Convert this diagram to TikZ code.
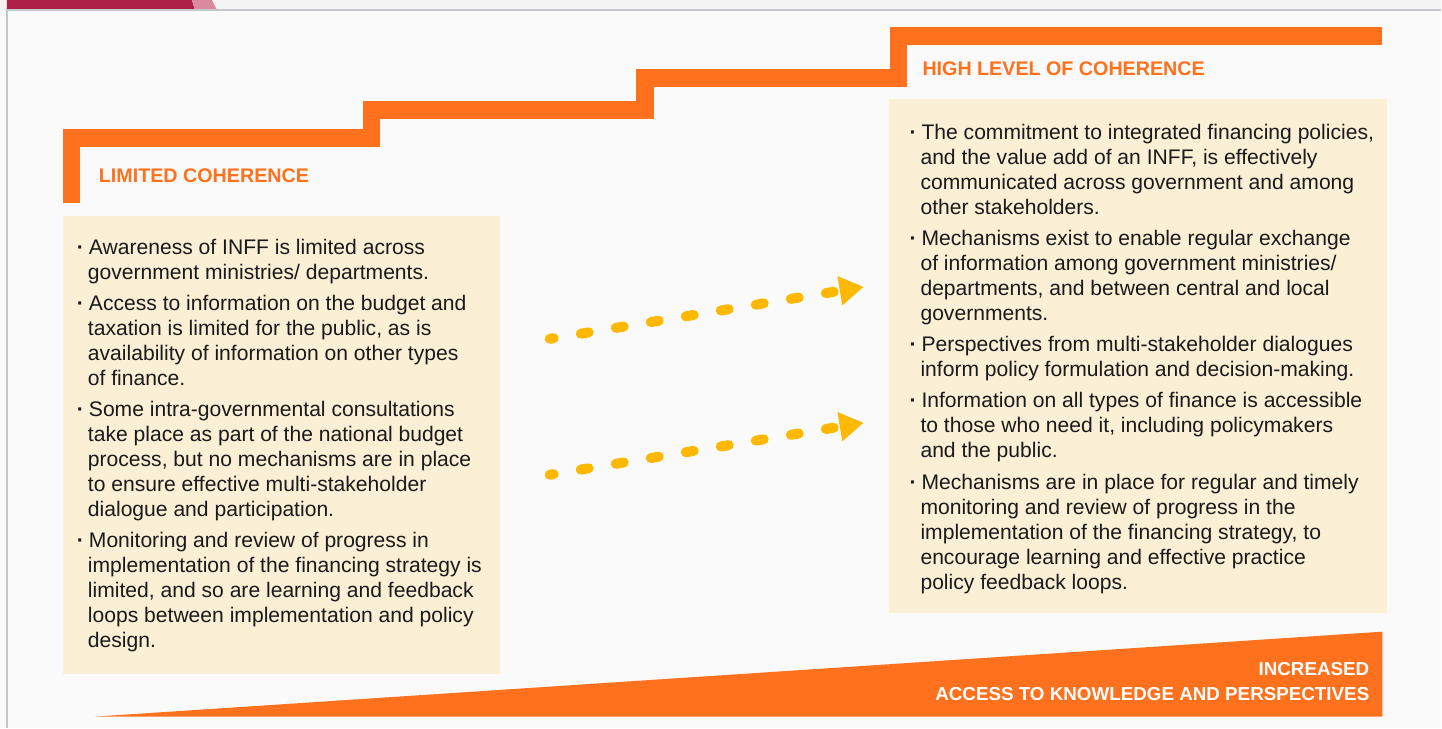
\documentclass[tikz,border=0pt]{standalone}
\usepackage{fontspec}
\setmainfont{Liberation Sans}
\usepackage{tikz}
\usetikzlibrary{arrows.meta, positioning}

\definecolor{stairorange}{HTML}{FF711C}
\definecolor{boxbeige}{HTML}{FBEFD6}
\definecolor{arrowgold}{HTML}{FFB800}
\definecolor{pagegrey}{HTML}{FAFAFA}
\definecolor{stripgrey}{HTML}{F3F3F3}
\definecolor{bordergrey}{HTML}{C4C7CB}
\definecolor{tabred}{HTML}{AE1F45}
\definecolor{tabpink}{HTML}{D98A9E}
\definecolor{bodytext}{HTML}{1A1A1A}

\newcommand{\bul}{\makebox[12pt][l]{\bfseries ·}}
\newcommand{\ind}{\hspace*{11pt}}

\begin{document}
\begin{tikzpicture}[x=1pt, y=-1pt,
    every node/.style={inner sep=0pt, outer sep=0pt},
    stair/.style={draw=stairorange, line width=17.5pt, line join=miter},
    panel/.style={fill=boxbeige, anchor=north west},
    heading/.style={text=stairorange, font=\fontsize{19.7}{24}\selectfont\bfseries, anchor=base west},
    itemtext/.style={text=bodytext, font=\fontsize{21.1}{25}\selectfont, align=left, anchor=north west},
    flow/.style={draw=arrowgold, line width=10pt, line cap=round, dash pattern=on 8pt off 27.5pt,
        dash phase=4pt, -{Triangle[length=24pt,width=28pt]}},
    gain/.style={text=white, font=\fontsize{18.8}{25}\selectfont\bfseries, anchor=base east}]

    % Page and tab strip
    \fill[pagegrey] (0,0) rectangle (1442,728);
    \fill[stripgrey] (0,0) rectangle (1442,10);
    \fill[tabred] (7,0) -- (192,0) -- (195,10) -- (7,10) -- cycle;
    \fill[tabpink] (192,0) -- (212,0) -- (217,10) -- (195,10) -- cycle;
    \draw[bordergrey, line width=1.5pt] (7,728) -- (7,10) -- (1442,10);

    % Staircase
    \draw[stair] (71.5,203) -- (71.5,138) -- (371.5,138) -- (371.5,110) -- (645.5,110)
        -- (645.5,78) -- (899,78) -- (899,36) -- (1383,36);

    % Left panel
    \node[panel, minimum width=437pt, minimum height=458pt] (limbox) at (63,216) {};
    \node[heading] (limhead) at (99,183) {LIMITED COHERENCE};
    \node[itemtext] (limtext) at (77,239) {%
        \bul Awareness of INFF is limited across\\
        \ind government ministries/ departments.\\[6.3pt]
        \bul Access to information on the budget and\\
        \ind taxation is limited for the public, as is\\
        \ind availability of information on other types\\
        \ind of finance.\\[6.3pt]
        \bul Some intra-governmental consultations\\
        \ind take place as part of the national budget\\
        \ind process, but no mechanisms are in place\\
        \ind to ensure effective multi-stakeholder\\
        \ind dialogue and participation.\\[6.3pt]
        \bul Monitoring and review of progress in\\
        \ind implementation of the financing strategy is\\
        \ind limited, and so are learning and feedback\\
        \ind loops between implementation and policy\\
        \ind design.};

    % Right panel
    \node[panel, minimum width=499pt, minimum height=514pt] (highbox) at (889,99) {};
    \node[heading] (highhead) at (923,76) {HIGH LEVEL OF COHERENCE};
    \node[itemtext] (hightext) at (910,124) {%
        \bul The commitment to integrated financing policies,\\
        \ind and the value add of an INFF, is effectively\\
        \ind communicated across government and among\\
        \ind other stakeholders.\\[6.3pt]
        \bul Mechanisms exist to enable regular exchange\\
        \ind of information among government ministries/\\
        \ind departments, and between central and local\\
        \ind governments.\\[6.3pt]
        \bul Perspectives from multi-stakeholder dialogues\\
        \ind inform policy formulation and decision-making.\\[6.3pt]
        \bul Information on all types of finance is accessible\\
        \ind to those who need it, including policymakers\\
        \ind and the public.\\[6.3pt]
        \bul Mechanisms are in place for regular and timely\\
        \ind monitoring and review of progress in the\\
        \ind implementation of the financing strategy, to\\
        \ind encourage learning and effective practice\\
        \ind policy feedback loops.};

    % Dotted arrows in the middle
    \coordinate (upstart) at (550,339);
    \coordinate (upend) at (864,287);
    \coordinate (lowstart) at (550,475);
    \coordinate (lowend) at (864,423);
    \draw[flow] (upstart) -- (upend);
    \draw[flow] (lowstart) -- (lowend);

    % Wedge at the bottom
    \fill[stairorange] (95,717) -- (1383,632) -- (1383,717) -- cycle;
    \node[gain] (gaintop) at (1370,676) {INCREASED};
    \node[gain] (gainbot) at (1370,701) {ACCESS TO KNOWLEDGE AND PERSPECTIVES};

\end{tikzpicture}
\end{document}
